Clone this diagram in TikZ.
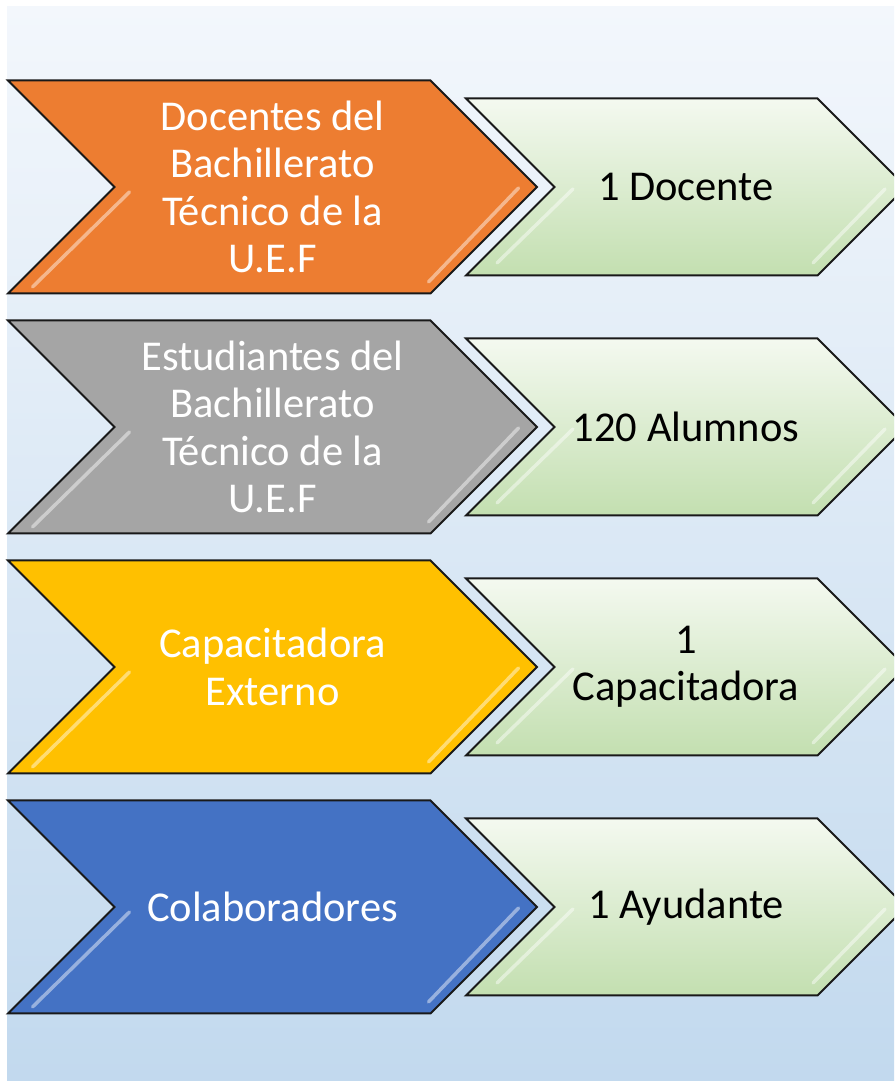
\documentclass[tikz,border=0pt]{standalone}
\usepackage{fontspec}
\setmainfont{Carlito}
\usetikzlibrary{shapes.symbols}
\definecolor{bgtop}{HTML}{F3F7FC}
\definecolor{bgbot}{HTML}{C2D9EE}
\definecolor{orng}{HTML}{ED7D31}
\definecolor{gry}{HTML}{A5A5A5}
\definecolor{gold}{HTML}{FFC000}
\definecolor{blu}{HTML}{4472C4}
\definecolor{grtop}{HTML}{F4F9F0}
\definecolor{grbot}{HTML}{C3DFB0}
\begin{document}
\begin{tikzpicture}[x=1pt, y=1pt, node distance=240pt,
  chev/.style = {signal, signal from=west, signal to=east, signal pointer angle=90,
    draw=black!90, line width=2pt, inner sep=0pt, align=center,
    font=\fontsize{42.5}{47.5}\selectfont},
  who/.style = {chev, text=white, minimum width=529pt, minimum height=213pt},
  res/.style = {chev, text=black, minimum width=440pt, minimum height=177pt,
    top color=grtop, bottom color=grbot},
  hilite/.style = {draw=white, opacity=.45, line width=3.5pt, line cap=round}]
\useasboundingbox (0,0) rectangle (894,1081);
\fill[white] (0,0) rectangle (894,1081);
\shade[top color=bgtop, bottom color=bgbot] (7,0) rectangle (894,1074);
\begin{scope}
\clip (0,0) rectangle (894,1081);
% who takes part
\node[who, fill=orng] (d1) at (272.5,894) {Docentes del\\Bachillerato\\Técnico de la\\U.E.F};
\node[who, fill=gry] (d2) [below of=d1] {Estudiantes del\\Bachillerato\\Técnico de la\\U.E.F};
\node[who, fill=gold] (d3) [below of=d2] {Capacitadora\\Externo};
\node[who, fill=blu] (d4) [below of=d3] {Colaboradores};
% how many
\node[res, node distance=413.5pt, right of=d1] (r1) {1 Docente};
\node[res, node distance=413.5pt, right of=d2] (r2) {120 Alumnos};
\node[res, node distance=413.5pt, right of=d3] (r3) {1\\Capacitadora};
\node[res, node distance=413.5pt, right of=d4] (r4) {1 Ayudante};
% glossy edges
\draw[hilite] ([shift={(-143,-5)}]d1.center) -- ([shift={(-240,-100)}]d1.center)
  ([shift={(246,-1)}]d1.center) -- ([shift={(156,-95)}]d1.center);
\draw[hilite] ([shift={(-143,-5)}]d2.center) -- ([shift={(-240,-100)}]d2.center)
  ([shift={(246,-1)}]d2.center) -- ([shift={(156,-95)}]d2.center);
\draw[hilite] ([shift={(-143,-5)}]d3.center) -- ([shift={(-240,-100)}]d3.center)
  ([shift={(246,-1)}]d3.center) -- ([shift={(156,-95)}]d3.center);
\draw[hilite] ([shift={(-143,-5)}]d4.center) -- ([shift={(-240,-100)}]d4.center)
  ([shift={(246,-1)}]d4.center) -- ([shift={(156,-95)}]d4.center);
\draw[hilite] ([shift={(-113,-2)}]r1.center) -- ([shift={(-189,-76)}]r1.center)
  ([shift={(199,-2)}]r1.center) -- ([shift={(127,-76)}]r1.center);
\draw[hilite] ([shift={(-113,-2)}]r2.center) -- ([shift={(-189,-76)}]r2.center)
  ([shift={(199,-2)}]r2.center) -- ([shift={(127,-76)}]r2.center);
\draw[hilite] ([shift={(-113,-2)}]r3.center) -- ([shift={(-189,-76)}]r3.center)
  ([shift={(199,-2)}]r3.center) -- ([shift={(127,-76)}]r3.center);
\draw[hilite] ([shift={(-113,-2)}]r4.center) -- ([shift={(-189,-76)}]r4.center)
  ([shift={(199,-2)}]r4.center) -- ([shift={(127,-76)}]r4.center);
\end{scope}
\end{tikzpicture}
\end{document}
